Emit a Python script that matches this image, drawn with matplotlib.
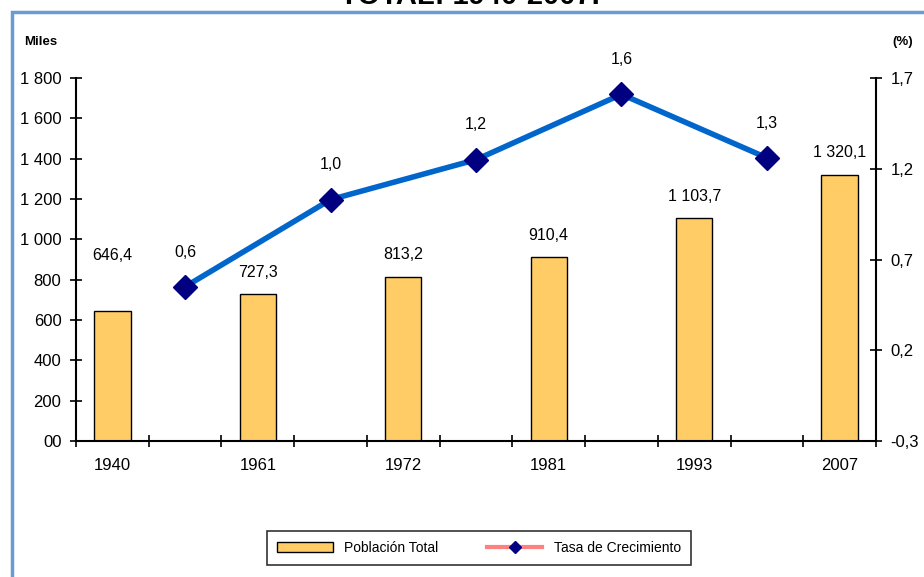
import matplotlib.pyplot as plt
import matplotlib.patches as mpatches
from matplotlib.lines import Line2D
import numpy as np

plt.rcParams['font.family'] = ['Liberation Sans', 'DejaVu Sans']

# data
YEARS = ['1940', '1961', '1972', '1981', '1993', '2007']
POPULATION = [646.4, 727.3, 813.2, 910.4, 1103.7, 1320.1]
POP_LABELS = ['646,4', '727,3', '813,2', '910,4', '1 103,7', '1 320,1']
GROWTH = [0.55, 1.03, 1.25, 1.61, 1.26]
GROWTH_LABELS = ['0,6', '1,0', '1,2', '1,6', '1,3']
LEFT_TICKS = [0, 200, 400, 600, 800, 1000, 1200, 1400, 1600, 1800]
LEFT_TICK_LABELS = ['00', '200', '400', '600', '800', '1 000', '1 200', '1 400', '1 600', '1 800']
RIGHT_TICKS = [-0.3, 0.2, 0.7, 1.2, 1.7]
RIGHT_TICK_LABELS = ['-0,3', '0,2', '0,7', '1,2', '1,7']

BAR_COLOR = '#FFCC66'
LINE_COLOR = '#0066CC'
MARKER_COLOR = '#000080'

fig = plt.figure(figsize=(9.24, 5.77), dpi=100)
ax = fig.add_axes([76 / 924, 1 - 441 / 577, 800 / 924, 363 / 577])

# census years sit on even slots, growth rates between them
bar_x = np.arange(len(YEARS)) * 2
line_x = bar_x[:-1] + 1

ax.bar(bar_x, POPULATION, width=0.5, color=BAR_COLOR, edgecolor='black', linewidth=1, zorder=2)
for i, (x, v, lab) in enumerate(zip(bar_x, POPULATION, POP_LABELS)):
    off = 40 if i == 0 else 16
    ax.annotate(lab, (x, v), xytext=(0, off), textcoords='offset points',
                ha='center', va='center', fontsize=11.5)

ax.set_xlim(-0.5, 10.5)
ax.set_ylim(0, 1800)
ax.set_yticks(LEFT_TICKS)
ax.set_yticklabels(LEFT_TICK_LABELS, fontsize=12)
ax.set_xticks(bar_x)
ax.set_xticklabels(YEARS, fontsize=12)
ax.set_xticks(np.arange(-0.5, 11, 1), minor=True)
ax.tick_params(axis='x', which='major', length=0, pad=12)
ax.tick_params(axis='x', which='minor', direction='inout', length=9, width=1.2)
ax.tick_params(axis='y', direction='inout', length=9, width=1.2, pad=6)
ax.spines['top'].set_visible(False)
ax.spines['right'].set_visible(False)
for s in ['left', 'bottom']:
    ax.spines[s].set_linewidth(1.5)

ax2 = ax.twinx()
ax2.plot(line_x, GROWTH, color=LINE_COLOR, linewidth=4, zorder=3)
ax2.plot(line_x, GROWTH, linestyle='none', marker='D', markersize=12,
         color=MARKER_COLOR, zorder=4)
for x, v, lab in zip(line_x, GROWTH, GROWTH_LABELS):
    ax2.annotate(lab, (x, v), xytext=(0, 25), textcoords='offset points',
                 ha='center', va='center', fontsize=11.5)
ax2.set_ylim(-0.3, 1.7)
ax2.set_yticks(RIGHT_TICKS)
ax2.set_yticklabels(RIGHT_TICK_LABELS, fontsize=12)
ax2.tick_params(axis='y', direction='inout', length=9, width=1.2, pad=6)
ax2.spines['top'].set_visible(False)
ax2.spines['left'].set_visible(False)
ax2.spines['bottom'].set_visible(False)
ax2.spines['right'].set_linewidth(1.5)

fig.text(41 / 924, 1 - 42 / 577, 'Miles', ha='center', va='center', fontsize=9.5, fontweight='bold')
fig.text(903 / 924, 1 - 42 / 577, '(%)', ha='center', va='center', fontsize=9.5, fontweight='bold')

# title is mostly cut off by the top of the image
fig.text(470 / 924, 1 - 4 / 577, 'TOTAL: 1940-2007.', ha='center', va='baseline',
         fontsize=21, fontweight='bold')

# blue frame
frame = mpatches.Rectangle((11.5 / 924, -0.1), 1.2, 1 - 12 / 577 + 0.1, transform=fig.transFigure,
                           fill=False, edgecolor='#6A9AD8', linewidth=2.5, clip_on=False)
fig.patches.append(frame)

handles = [mpatches.Patch(facecolor=BAR_COLOR, edgecolor='black', linewidth=1),
           Line2D([0], [0], color='#FF8080', linewidth=3, marker='D', markersize=6,
                  markerfacecolor=MARKER_COLOR, markeredgecolor=MARKER_COLOR)]
leg = fig.legend(handles, ['Población Total', 'Tasa de Crecimiento'], ncol=2,
                 loc='center', bbox_to_anchor=(479 / 924, 1 - 548 / 577),
                 fontsize=10, frameon=True, fancybox=False, edgecolor='black',
                 handlelength=4.0, columnspacing=3.5, borderpad=0.75, borderaxespad=0)
leg.get_frame().set_linewidth(1.2)

fig.savefig('out.png', dpi=100)
